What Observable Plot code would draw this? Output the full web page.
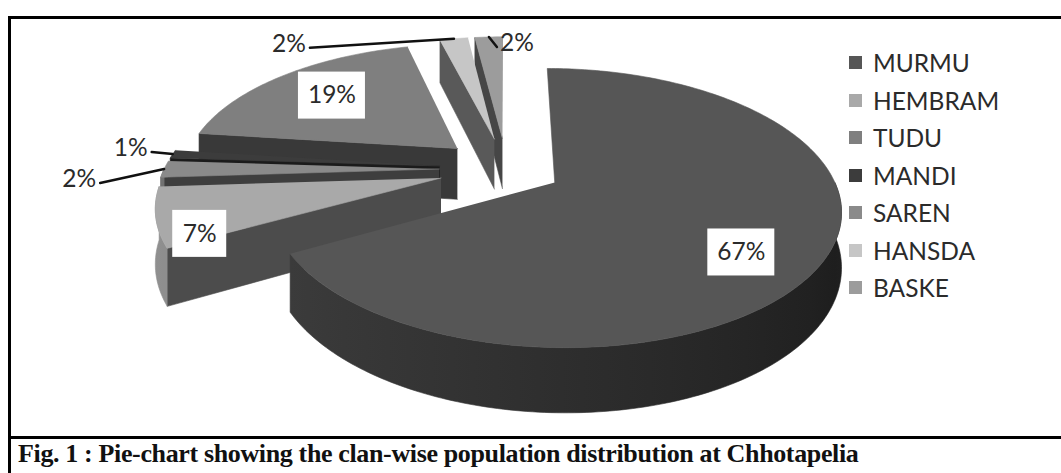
<!DOCTYPE html>
<html>
<head>
<meta charset="utf-8">
<script src="https://cdn.jsdelivr.net/npm/d3@7"></script>
<script src="https://cdn.jsdelivr.net/npm/@observablehq/plot@0.6"></script>
<style>
  html, body { margin: 0; padding: 0; background: #fff; }
  body { width: 1061px; height: 473px; overflow: hidden; position: relative; font-family: Lato, "Open Sans", sans-serif; }
  #chart { position: absolute; left: 0; top: 0; }
  .rule { position: absolute; background: #000; }
  #legend { position: absolute; left: 849px; top: 44px; font: 24.5px Lato, sans-serif; color: #2b2b2b; }
  #legend .row { height: 37.5px; display: flex; align-items: center; }
  #legend .sw { width: 13px; height: 13px; margin-right: 11px; }
  #caption { position: absolute; left: 18px; top: 441px; font: bold 26px "Liberation Serif", "Times New Roman", serif; line-height: 26px; letter-spacing: -0.36px; white-space: nowrap; color: #111; }
</style>
</head>
<body>
<div id="chart"></div>
<div id="legend"></div>
<div class="rule" style="left:8px;top:16px;width:1100px;height:3px"></div>
<div class="rule" style="left:8px;top:16px;width:3px;height:470px"></div>
<div class="rule" style="left:8px;top:436px;width:1100px;height:3px"></div>
<div id="caption">Fig. 1 : Pie-chart showing the clan-wise population distribution at Chhotapelia</div>
<script>
// Clan-wise share of the population (per cent)
const clans = ["MURMU", "HEMBRAM", "TUDU", "MANDI", "SAREN", "HANSDA", "BASKE"];
const shares = [67, 7, 19, 1, 2, 2, 2];
const clanColors = ["#565656", "#a9a9a9", "#7f7f7f", "#3c3c3c", "#8a8a8a", "#c6c6c6", "#9c9c9c"];
// clockwise order of the wedges round the pie, starting from the back
const wedgeOrder = ["MURMU", "HEMBRAM", "SAREN", "MANDI", "TUDU", "HANSDA", "BASKE"];

const W = 1061, H = 436;
const Rx = 275;             // pixels per unit radius
const tilt = 0.4727;        // vertical squash of the disc
const persp = 0.18;         // foreshortening towards the back
const thick = 0.19;         // slab thickness, in radius units
const cx = 506, cy = 168.5; // pie hub on the page
const explodeOf = name => name === "MURMU" ? 0.2 : 0.245;

const total = d3.sum(shares);
const shareOf = new Map(clans.map((c, i) => [c, shares[i]]));
const colorOf = new Map(clans.map((c, i) => [c, clanColors[i]]));

let acc = 0;
const wedges = wedgeOrder.map(name => {
  const value = shareOf.get(name);
  const a0 = acc / total * 2 * Math.PI; acc += value;
  const a1 = acc / total * 2 * Math.PI;
  const mid = (a0 + a1) / 2, e = explodeOf(name);
  return {name, value, a0, a1, mid, ox: e * Math.sin(mid), oz: e * Math.cos(mid), color: colorOf.get(name)};
});

// angle a runs clockwise from the back of the disc; Z points away from the viewer
function project(X, Z, h) {
  const f = 1 / (1 + persp * Z);
  return {u: X * f, v: (-Z * tilt + h) * f};
}
const rim = (w, a, h, r = 1) => project(w.ox + r * Math.sin(a), w.oz + r * Math.cos(a), h);
const hub = (w, h) => project(w.ox, w.oz, h);
const shade = (color, k) => { const c = d3.rgb(color); return d3.rgb(c.r * k, c.g * k, c.b * k).formatHex(); };
// curved walls are lit from the left: darken by a fixed amount that grows to the right
const wallTone = (color, a) => { const c = d3.rgb(color), d = (0.45 + 0.17 * Math.sin(a)) * 90; return d3.rgb(c.r - d, c.g - d, c.b - d).formatHex(); };

const faces = [];
const gradients = [];
let faceId = 0;
function addFace(points, color) { const key = faceId++; for (const p of points) faces.push({...p, key, color}); }
function arcPoints(w, a0, a1, h) {
  const n = Math.max(2, Math.ceil((a1 - a0) / (Math.PI / 180)) + 1);
  return d3.range(n).map(i => rim(w, a0 + (a1 - a0) * i / (n - 1), h));
}

// painter's order: wedges further back first
const painter = wedges.slice().sort((a, b) => Math.cos(b.mid) - Math.cos(a.mid));
for (const w of painter) {
  const side = shade(w.color, 0.45);
  if (Math.sin(w.a0) < -1e-6) addFace([hub(w, 0), rim(w, w.a0, 0), rim(w, w.a0, thick), hub(w, thick)], side);
  if (Math.sin(w.a1) > 1e-6) addFace([hub(w, 0), rim(w, w.a1, 0), rim(w, w.a1, thick), hub(w, thick)], side);
  // curved outer wall on the near half, shaded with a left-to-right gradient
  const lo = Math.max(w.a0, Math.PI / 2), hi = Math.min(w.a1, 3 * Math.PI / 2);
  if (hi > lo) {
    const top = arcPoints(w, lo, hi, 0), bottom = arcPoints(w, lo, hi, thick).reverse();
    const samples = d3.range(9).map(i => lo + (hi - lo) * i / 8).map(a => ({u: rim(w, a, 0).u, color: wallTone(w.color, a)}));
    const id = `wall-${w.name}`;
    gradients.push({id, samples});
    addFace([...top, ...bottom], `url(#${id})`);
  }
  addFace([hub(w, 0), ...arcPoints(w, w.a0, w.a1, 0)], w.color);
}

// value labels: boxed inside the big wedges, called out for the small ones
const pct = w => `${w.value}%`;
const boxNudge = {MURMU: [-3, 17], HEMBRAM: [20, 20], TUDU: [4, 1]};
const inside = wedges.filter(w => w.value >= 5).map(w => {
  const p = rim(w, w.mid, 0, w.value >= 10 ? 0.72 : 0.92);
  const [dx, dy] = boxNudge[w.name] || [0, 0];
  return {u: p.u + dx / Rx, v: p.v + dy / Rx, text: pct(w), half: (28 + 13 * pct(w).length) / 2 / Rx};
});
const calloutOffset = {MANDI: [-21, -2], SAREN: [-64, 14], HANSDA: [-144, 9], BASKE: [8, 10]};
const callouts = wedges.filter(w => w.value < 5).map(w => {
  const p = rim(w, w.mid, 0, 1);
  const [dx, dy] = calloutOffset[w.name];
  return {u: p.u, v: p.v, u2: p.u + dx / Rx, v2: p.v + dy / Rx, text: pct(w), right: dx > 0};
});
const leaders = callouts.flatMap((c, i) => [{u: c.u, v: c.v, key: i}, {u: c.u2, v: c.v2, key: i}]);

// gradient definitions for the curved walls, placed through the x scale
function wallGradients(index, scales) {
  const defs = d3.create("svg:defs");
  for (const g of gradients) {
    const xs = g.samples.map(s => scales.x(s.u));
    const x0 = d3.min(xs), x1 = d3.max(xs);
    const lg = defs.append("linearGradient").attr("id", g.id).attr("gradientUnits", "userSpaceOnUse")
      .attr("x1", x0).attr("x2", x1).attr("y1", 0).attr("y2", 0);
    g.samples.map((s, i) => ({off: x1 > x0 ? (xs[i] - x0) / (x1 - x0) : 0, color: s.color}))
      .sort((a, b) => a.off - b.off)
      .forEach(s => lg.append("stop").attr("offset", s.off).attr("stop-color", s.color));
  }
  return defs.node();
}

const labelStyle = {fontSize: 24.5, fontFamily: "Lato", fill: "#2b2b2b", lineAnchor: "middle"};
const plot = Plot.plot({
  width: W, height: H, margin: 0,
  x: {domain: [-cx / Rx, (W - cx) / Rx], range: [0, W], axis: null},
  y: {domain: [-cy / Rx, (H - cy) / Rx], range: [0, H], axis: null},
  color: {type: "identity"},
  style: {background: "transparent", overflow: "visible"},
  marks: [
    wallGradients,
    Plot.line(faces, {x: "u", y: "v", z: "key", fill: "color", stroke: "color", strokeWidth: 0.6, curve: "linear"}),
    Plot.rect(inside, {x1: d => d.u - d.half, x2: d => d.u + d.half, y1: d => d.v - 23.5 / Rx, y2: d => d.v + 23.5 / Rx, fill: "white"}),
    Plot.text(inside, {x: "u", y: "v", text: "text", ...labelStyle}),
    Plot.line(leaders, {x: "u", y: "v", z: "key", stroke: "#111", strokeWidth: 2.5}),
    Plot.text(callouts.filter(c => !c.right), {x: "u2", y: "v2", text: "text", textAnchor: "end", dx: -4, dy: -4, ...labelStyle}),
    Plot.text(callouts.filter(c => c.right), {x: "u2", y: "v2", text: "text", textAnchor: "start", dx: 3, dy: -4, ...labelStyle})
  ]
});
document.getElementById("chart").append(plot);

const legend = d3.select("#legend");
clans.forEach((c, i) => {
  const row = legend.append("div").attr("class", "row");
  row.append("div").attr("class", "sw").style("background", clanColors[i]);
  row.append("span").text(c);
});
</script>
</body>
</html>
